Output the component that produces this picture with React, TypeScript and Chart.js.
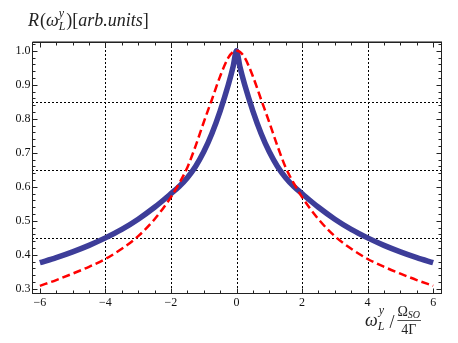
import { useEffect, useRef } from "react";
import { Chart, registerables } from "chart.js";
Chart.register(...registerables);

// Data
const xValues = [-6, -5.5, -5, -4.5, -4, -3.5, -3, -2.5, -2, -1.75, -1.5, -1.25, -1, -0.75, -0.5, -0.25, -0.1, 0, 0.1, 0.25, 0.5, 0.75, 1, 1.25, 1.5, 1.75, 2, 2.5, 3, 3.5, 4, 4.5, 5, 5.5, 6];
const blueValues = [0.377, 0.392, 0.409, 0.428, 0.45, 0.475, 0.505, 0.54, 0.58, 0.601, 0.627, 0.66, 0.703, 0.757, 0.823, 0.9, 0.955, 1.0, 0.955, 0.9, 0.823, 0.757, 0.703, 0.66, 0.627, 0.601, 0.58, 0.54, 0.505, 0.475, 0.45, 0.428, 0.409, 0.392, 0.377];
const redValues = [0.309, 0.326, 0.345, 0.365, 0.388, 0.418, 0.455, 0.505, 0.57, 0.61, 0.657, 0.72, 0.79, 0.857, 0.925, 0.98, 0.997, 1.0, 0.997, 0.98, 0.925, 0.857, 0.79, 0.72, 0.657, 0.61, 0.57, 0.505, 0.455, 0.418, 0.388, 0.365, 0.345, 0.326, 0.309];

const xTickValues = [-6, -4, -2, 0, 2, 4, 6];
const xTickLabels = ["\u22126", "\u22124", "\u22122", "0", "2", "4", "6"];
const yTickValues = [0.3, 0.4, 0.5, 0.6, 0.7, 0.8, 0.9, 1.0];
const yTickLabels = ["0.3", "0.4", "0.5", "0.6", "0.7", "0.8", "0.9", "1.0"];
const xGridValues = [-4, -2, 0, 2, 4];
const yGridValues = [0.45, 0.65, 0.85];

const X_MIN = -6.24;
const X_MAX = 6.27;
const Y_MIN = 0.285;
const Y_MAX = 1.026;

const SERIF = "'Liberation Serif', 'DejaVu Serif', serif";

function minorTicks(start: number, end: number, step: number, majors: number[], lo: number, hi: number) {
  const out: number[] = [];
  const n = Math.round((end - start) / step);
  for (let i = 0; i <= n; i++) {
    const v = +(start + i * step).toFixed(6);
    if (v < lo || v > hi) continue;
    if (majors.some((m) => Math.abs(m - v) < 1e-6)) continue;
    out.push(v);
  }
  return out;
}

const framePlugin = {
  id: "mmaFrame",
  beforeDatasetsDraw(chart: any) {
    const { ctx, chartArea: a, scales } = chart;
    const x = scales.x, y = scales.y;
    ctx.save();
    ctx.beginPath();
    ctx.rect(a.left, a.top, a.right - a.left, a.bottom - a.top);
    ctx.clip();
    ctx.strokeStyle = "#000";
    ctx.lineWidth = 1;
    ctx.setLineDash([2, 2]);
    ctx.beginPath();
    for (const v of xGridValues) {
      const px = Math.round(x.getPixelForValue(v)) + 0.5;
      ctx.moveTo(px, a.top);
      ctx.lineTo(px, a.bottom);
    }
    for (const v of yGridValues) {
      const py = Math.round(y.getPixelForValue(v)) + 0.5;
      ctx.moveTo(a.left, py);
      ctx.lineTo(a.right, py);
    }
    ctx.stroke();
    ctx.restore();
  },
  afterDatasetsDraw(chart: any) {
    const { ctx, chartArea: a, scales } = chart;
    const x = scales.x, y = scales.y;
    ctx.save();
    const L = Math.round(a.left) + 0.5, R = Math.round(a.right) - 0.5;
    const T = Math.round(a.top) + 0.5, B = Math.round(a.bottom) - 0.5;
    ctx.setLineDash([]);
    ctx.lineWidth = 1;
    ctx.strokeStyle = "#222";
    ctx.strokeRect(L, T, R - L, B - T);
    ctx.strokeStyle = "#888";
    ctx.beginPath();
    ctx.moveTo(L, T - 1);
    ctx.lineTo(R + 0.5, T - 1);
    ctx.stroke();
    ctx.strokeStyle = "#222";
    const xMinor = minorTicks(-6.5, 6.5, 0.5, xTickValues, X_MIN, X_MAX);
    const yMinor = minorTicks(0.28, 1.04, 0.02, yTickValues, Y_MIN, Y_MAX);
    ctx.beginPath();
    const xt = (v: number, len: number) => {
      const px = Math.round(x.getPixelForValue(v)) + 0.5;
      ctx.moveTo(px, B); ctx.lineTo(px, B - len);
      ctx.moveTo(px, T); ctx.lineTo(px, T + len);
    };
    const yt = (v: number, len: number) => {
      const py = Math.round(y.getPixelForValue(v)) + 0.5;
      ctx.moveTo(L, py); ctx.lineTo(L + len, py);
      ctx.moveTo(R, py); ctx.lineTo(R - len, py);
    };
    xTickValues.forEach((v) => xt(v, 5));
    xMinor.forEach((v) => xt(v, 3));
    yTickValues.forEach((v) => yt(v, 5));
    yMinor.forEach((v) => yt(v, 3));
    ctx.stroke();

    // tick labels
    ctx.fillStyle = "#111";
    ctx.font = `12px ${SERIF}`;
    ctx.textAlign = "center";
    ctx.textBaseline = "middle";
    xTickValues.forEach((v, i) => {
      ctx.fillText(xTickLabels[i], x.getPixelForValue(v), B + 9);
    });
    ctx.textAlign = "right";
    yTickValues.forEach((v, i) => {
      ctx.fillText(yTickLabels[i], L - 2, y.getPixelForValue(v));
    });

    // y title: R(ω^y_L)[arb.units]
    ctx.fillStyle = "#222";
    ctx.textAlign = "left";
    ctx.textBaseline = "alphabetic";
    let cx = 28;
    const by = 26;
    const piece = (t: string, font: string, dy = 0) => {
      ctx.font = font;
      ctx.fillText(t, cx, by + dy);
      return ctx.measureText(t).width;
    };
    const big = `italic 18px ${SERIF}`;
    const bigUp = `18px ${SERIF}`;
    const small = `italic 12px ${SERIF}`;
    cx += piece("R", big) + 1;
    cx += piece("(", bigUp);
    cx += piece("\u03c9", big);
    const sx = cx;
    const w1 = piece("y", small, -9);
    cx = sx;
    const w2 = piece("L", small, 4);
    cx = sx + Math.max(w1, w2) + 1;
    cx += piece(")[", bigUp);
    cx += piece("arb.units", big);
    piece("]", bigUp);

    // x title: ω^y_L / (Ω_SO / 4Γ)
    const xb = 326;
    const pieceAt = (t: string, font: string, px: number, py: number, align: CanvasTextAlign = "left") => {
      ctx.font = font;
      ctx.textAlign = align;
      ctx.fillText(t, px, py);
      return ctx.measureText(t).width;
    };
    let xx = 365;
    xx += pieceAt("\u03c9", `italic 18px ${SERIF}`, xx, xb);
    const w3 = pieceAt("y", `italic 12px ${SERIF}`, xx + 1, xb - 12);
    const w4 = pieceAt("L", `italic 12px ${SERIF}`, xx, xb + 4);
    xx += Math.max(w3, w4) + 5;
    xx += pieceAt("/", `18px ${SERIF}`, xx, xb + 2);
    xx += 3;
    const fx = xx;
    let nx = fx;
    nx += pieceAt("\u03a9", `14px ${SERIF}`, nx, 316);
    nx += pieceAt("SO", `italic 10px ${SERIF}`, nx, 318);
    const fw = nx - fx;
    ctx.beginPath();
    ctx.strokeStyle = "#222";
    ctx.lineWidth = 0.8;
    ctx.moveTo(fx, 320.5);
    ctx.lineTo(fx + fw + 1, 320.5);
    ctx.stroke();
    pieceAt("4\u0393", `14px ${SERIF}`, fx + fw / 2, 334, "center");
    ctx.restore();
  },
};

export default function App() {
  const ref = useRef<HTMLCanvasElement>(null);
  useEffect(() => {
    if (!ref.current) return;
    const chart = new Chart(ref.current, {
      type: "line",
      data: {
        datasets: [
          {
            label: "red",
            data: xValues.map((v, i) => ({ x: v, y: redValues[i] })),
            borderColor: "#ff0000",
            borderWidth: 2.5,
            borderDash: [8, 4],
            pointRadius: 0,
            cubicInterpolationMode: "monotone",
            fill: false,
          },
          {
            label: "blue",
            data: xValues.map((v, i) => ({ x: v, y: blueValues[i] })),
            borderColor: "#3d3d99",
            borderWidth: 5.5,
            pointRadius: 0,
            cubicInterpolationMode: "monotone",
            fill: false,
          },
        ],
      },
      options: {
        animation: false,
        responsive: false,
        layout: { padding: { left: 32, right: 16, top: 42, bottom: 49 } },
        plugins: { legend: { display: false }, tooltip: { enabled: false } },
        scales: {
          x: { type: "linear", min: X_MIN, max: X_MAX, display: false },
          y: { type: "linear", min: Y_MIN, max: Y_MAX, display: false },
        },
      },
      plugins: [framePlugin],
    });
    return () => chart.destroy();
  }, []);
  return (
    <div style={{ position: "absolute", left: 0, top: 0, width: 458, height: 343, background: "#fff" }}>
      <canvas ref={ref} width={458} height={343} style={{ display: "block" }} />
    </div>
  );
}
